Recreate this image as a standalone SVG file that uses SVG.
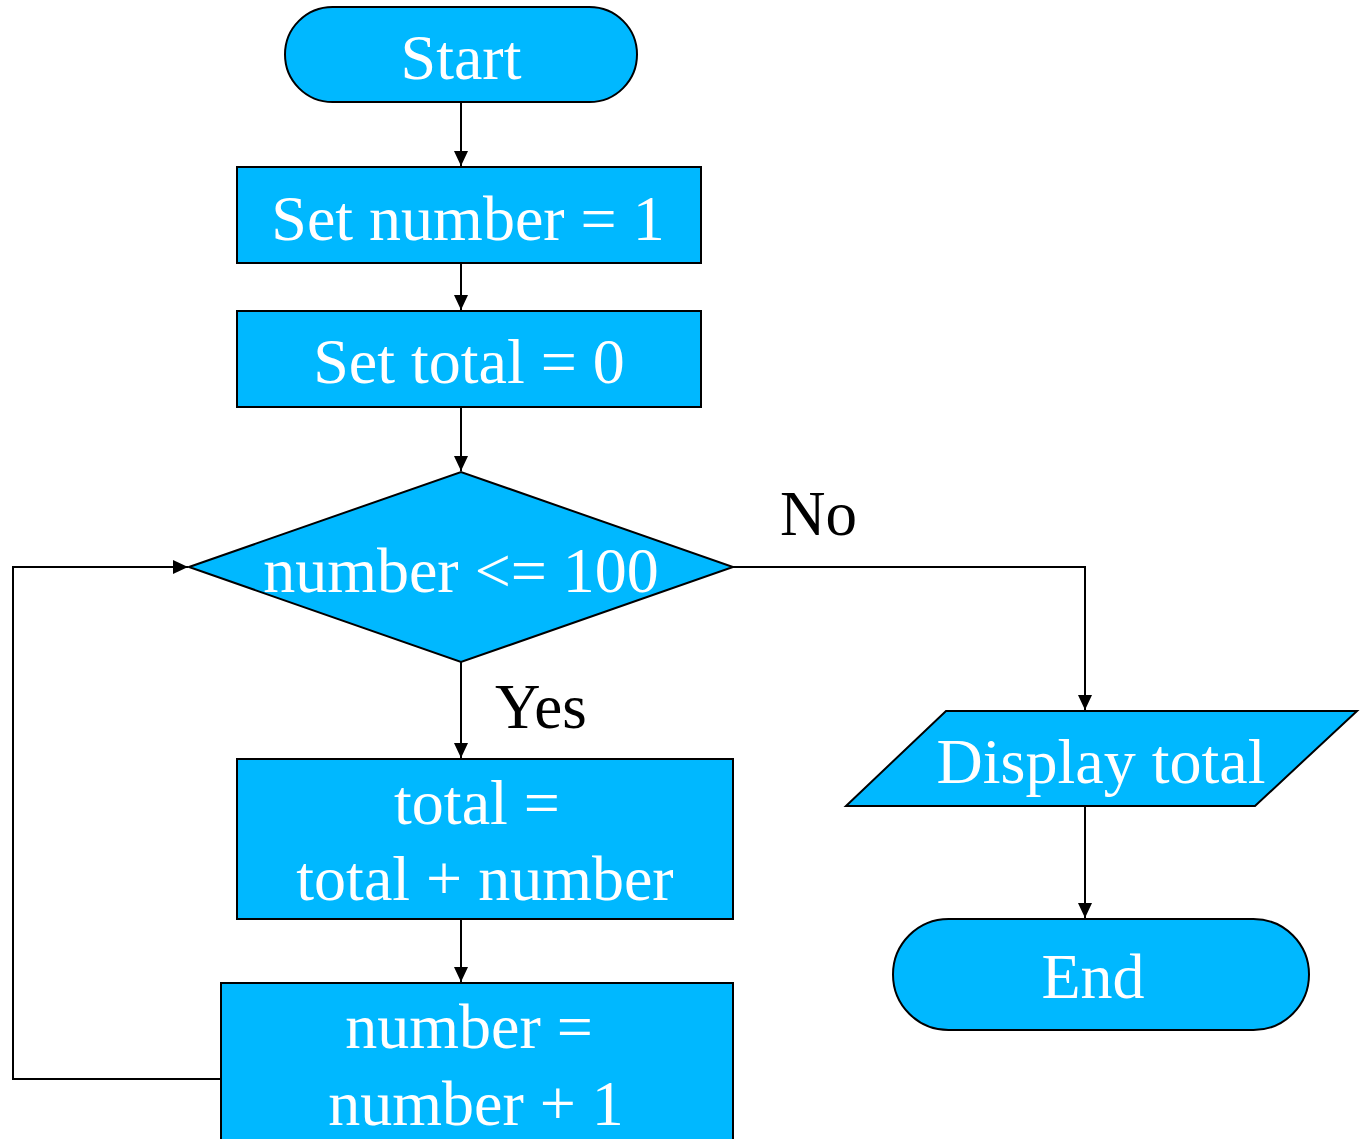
<svg xmlns="http://www.w3.org/2000/svg" width="1362" height="1139" viewBox="0 0 1362 1139">
<defs>
<marker id="arr" markerWidth="16" markerHeight="16" refX="15" refY="7" orient="auto" markerUnits="userSpaceOnUse">
<path d="M0,0 L15,7 L0,14 Z" fill="#000"/>
</marker>
<style>
.n{fill:#00b8ff;stroke:#000;stroke-width:2}
.t{font-family:"Liberation Serif","Times New Roman",serif;font-size:64px;fill:#fff;text-anchor:middle}
.l{font-family:"Liberation Serif","Times New Roman",serif;font-size:63px;fill:#000}
.c{fill:none;stroke:#000;stroke-width:2}
</style>
</defs>
<rect width="1362" height="1139" fill="#fff"/>
<g id="connectors">
<line class="c" x1="461" y1="102" x2="461" y2="166" marker-end="url(#arr)"/>
<line class="c" x1="461" y1="263" x2="461" y2="310" marker-end="url(#arr)"/>
<line class="c" x1="461" y1="407" x2="461" y2="471" marker-end="url(#arr)"/>
<line class="c" x1="461" y1="662" x2="461" y2="758" marker-end="url(#arr)"/>
<line class="c" x1="461" y1="919" x2="461" y2="982" marker-end="url(#arr)"/>
<polyline class="c" points="221,1079 13,1079 13,567 188,567" marker-end="url(#arr)"/>
<polyline class="c" points="733,567 1085,567 1085,710" marker-end="url(#arr)"/>
<line class="c" x1="1085" y1="806" x2="1085" y2="918" marker-end="url(#arr)"/>
<text class="l" x="780" y="535">No</text>
<text class="l" x="495" y="728">Yes</text>
</g>
<g id="start">
<rect class="n" x="285" y="7" width="352" height="95" rx="47.5"/>
<text class="t" x="461" y="79">Start</text>
</g>
<g id="setNumber">
<rect class="n" x="237" y="167" width="464" height="96"/>
<text class="t" x="468" y="240">Set number = 1</text>
</g>
<g id="setTotal">
<rect class="n" x="237" y="311" width="464" height="96"/>
<text class="t" x="469" y="383">Set total = 0</text>
</g>
<g id="decision">
<polygon class="n" points="189,567 461,472 733,567 461,662"/>
<text class="t" x="461" y="592">number &lt;= 100</text>
</g>
<g id="addTotal">
<rect class="n" x="237" y="759" width="496" height="160"/>
<text class="t" x="477" y="824">total =</text>
<text class="t" x="485" y="900">total + number</text>
</g>
<g id="increment">
<rect class="n" x="221" y="983" width="512" height="170"/>
<text class="t" x="469" y="1048">number =</text>
<text class="t" x="476" y="1125">number + 1</text>
</g>
<g id="display">
<polygon class="n" points="846,806 946,711 1357,711 1255,806"/>
<text class="t" x="1101" y="783">Display total</text>
</g>
<g id="end">
<rect class="n" x="893" y="919" width="416" height="111" rx="55.5"/>
<text class="t" x="1093" y="998">End</text>
</g>
</svg>
